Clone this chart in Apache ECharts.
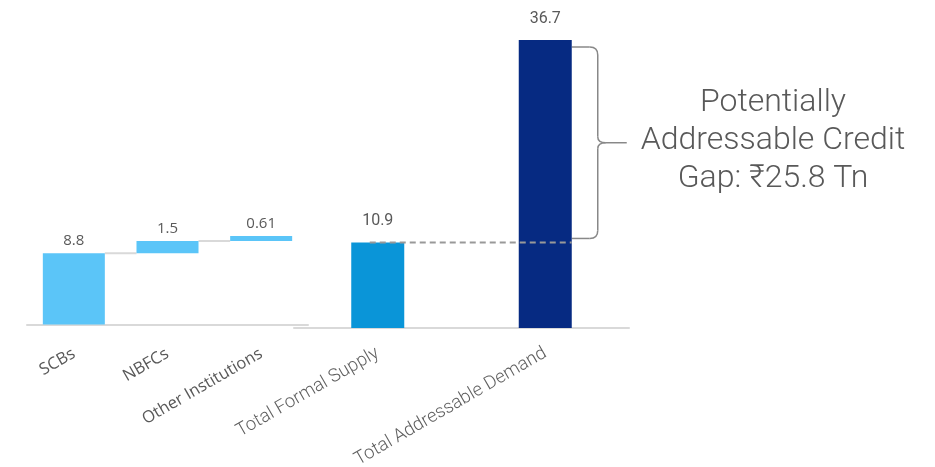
<!DOCTYPE html>
<html><head><meta charset="utf-8">
<script src="https://cdn.jsdelivr.net/npm/echarts@6/dist/echarts.min.js"></script>
<style>html,body{margin:0;padding:0;background:#fff}#c{width:935px;height:467px}</style>
</head><body><div id="c"></div>
<script>
const segCategories = ['SCBs', 'NBFCs', 'Other Institutions'];
const segValues = [8.8, 1.5, 0.61];
const totalCategories = ['Total Formal Supply', 'Total Addressable Demand'];
const totalValues = [10.9, 36.7];
const gapText = ['Potentially', 'Addressable Credit', 'Gap: ₹25.8 Tn'];

const bases = [];
let acc = 0;
segValues.forEach(v => { bases.push(+acc.toFixed(2)); acc += v; });
const connectors = [];
for (let i = 0; i < segValues.length - 1; i++) connectors.push([i, +(bases[i] + segValues[i]).toFixed(2)]);

const lightBlue = '#5BC5F8';
const midBlue = '#0A95D8';
const navy = '#062A82';
const grayText = '#595959';

const chart = echarts.init(document.getElementById('c'));
chart.setOption({
  animation: false,
  grid: [
    { left: 27, width: 281, top: 40, bottom: 142.5, containLabel: false, outerBoundsMode: 'none' },
    { left: 294, width: 335, top: 40, bottom: 139, containLabel: false, outerBoundsMode: 'none' }
  ],
  xAxis: [
    { gridIndex: 0, type: 'category', data: segCategories, axisTick: { show: false },
      axisLine: { lineStyle: { color: '#d9d9d9', width: 2 } },
      axisLabel: { rotate: 30, color: grayText, fontFamily: 'Open Sans', fontSize: 16.5, margin: 28 } },
    { gridIndex: 1, type: 'category', data: totalCategories, axisTick: { show: false },
      axisLine: { lineStyle: { color: '#d9d9d9', width: 2 } },
      axisLabel: { rotate: 30, color: '#5f5f5f', fontFamily: 'Roboto', fontWeight: 300, fontSize: 18.5, margin: 24 } }
  ],
  yAxis: [
    { gridIndex: 0, type: 'value', min: 0, max: 35.1, show: false, splitLine: { show: false } },
    { gridIndex: 1, type: 'value', min: 0, max: 36.7, show: false, splitLine: { show: false } }
  ],
  series: [
    { type: 'bar', xAxisIndex: 0, yAxisIndex: 0, stack: 'w', data: bases, barWidth: 62,
      itemStyle: { color: 'transparent' }, silent: true },
    { type: 'bar', xAxisIndex: 0, yAxisIndex: 0, stack: 'w', data: segValues, barWidth: 62,
      itemStyle: { color: lightBlue },
      label: { show: true, position: 'top', distance: 5, color: grayText, fontFamily: 'Open Sans', fontSize: 15 } },
    { type: 'custom', xAxisIndex: 0, yAxisIndex: 0, data: connectors,
      renderItem: function (params, api) {
        const i = api.value(0), y = api.value(1);
        const p0 = api.coord([i, y]), p1 = api.coord([i + 1, y]);
        const hw = 31;
        return { type: 'line', shape: { x1: p0[0] + hw, y1: p0[1], x2: p1[0] - hw, y2: p1[1] },
          style: { stroke: '#d9d9d9', lineWidth: 2 } };
      } },
    { type: 'bar', xAxisIndex: 1, yAxisIndex: 1, barWidth: 53,
      data: totalValues.map((v, i) => ({ value: v, itemStyle: { color: i === 0 ? midBlue : navy } })),
      label: { show: true, position: 'top', distance: 13, color: grayText, fontFamily: 'Roboto', fontSize: 16 } }
  ]
});

const pLow = chart.convertToPixel({ xAxisIndex: 1, yAxisIndex: 1 }, [0, totalValues[0]]);
const pTop = chart.convertToPixel({ xAxisIndex: 1, yAxisIndex: 1 }, [1, totalValues[1]]);
const x0 = pTop[0] + 26.5;
const t = pTop[1] + 7, b = pLow[1] - 4, m = (t + b) / 2;
const s = x0 + 26, tip = x0 + 55;
const bs = { stroke: '#888', lineWidth: 1.5, fill: null };
chart.setOption({
  graphic: [
    { type: 'line', shape: { x1: pLow[0] - 8, y1: pLow[1], x2: x0, y2: pLow[1] },
      style: { stroke: '#999', lineWidth: 2, lineDash: [6, 4] }, z: 10 },
    { type: 'line', shape: { x1: x0, y1: t, x2: s - 8, y2: t }, style: bs },
    { type: 'bezierCurve', shape: { x1: s - 8, y1: t, x2: s, y2: t + 8, cpx1: s, cpy1: t }, style: bs },
    { type: 'line', shape: { x1: s, y1: t + 8, x2: s, y2: m - 6 }, style: bs },
    { type: 'bezierCurve', shape: { x1: s, y1: m - 6, x2: s + 8, y2: m, cpx1: s, cpy1: m }, style: bs },
    { type: 'line', shape: { x1: s + 8, y1: m, x2: tip, y2: m }, style: bs },
    { type: 'bezierCurve', shape: { x1: s + 8, y1: m, x2: s, y2: m + 6, cpx1: s, cpy1: m }, style: bs },
    { type: 'line', shape: { x1: s, y1: m + 6, x2: s, y2: b - 8 }, style: bs },
    { type: 'bezierCurve', shape: { x1: s, y1: b - 8, x2: s - 8, y2: b, cpx1: s, cpy1: b }, style: bs },
    { type: 'line', shape: { x1: s - 8, y1: b, x2: x0, y2: b }, style: bs },
    { type: 'text', x: 773, y: m - 2, style: { text: gapText.join('\n'), align: 'center', verticalAlign: 'middle',
        font: '300 32px Roboto', fill: grayText, lineHeight: 38 } }
  ]
});
</script></body></html>
